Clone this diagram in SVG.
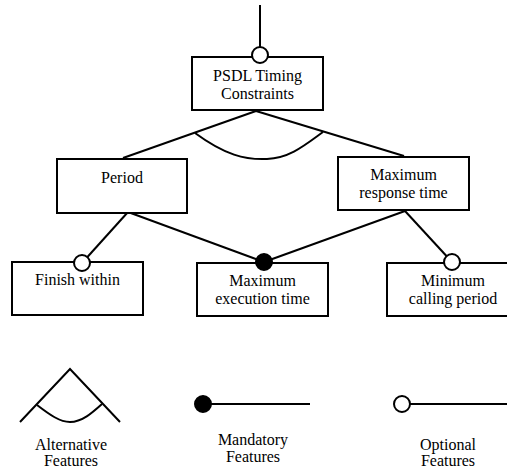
<svg xmlns="http://www.w3.org/2000/svg" width="507" height="469" viewBox="0 0 507 469">
<style>
.box{fill:#fff;stroke:#000;stroke-width:2}
.ln{fill:none;stroke:#000;stroke-width:2}
.open{fill:#fff;stroke:#000;stroke-width:2}
.fill{fill:#000;stroke:#000;stroke-width:2}
</style>
<rect width="507" height="469" fill="#fff"/>
<g id="connectors">
<line class="ln" x1="260" y1="5" x2="260" y2="47"/>
<line class="ln" x1="256" y1="111" x2="123" y2="158"/>
<line class="ln" x1="256" y1="111" x2="404" y2="156"/>
<path class="ln" d="M195,133 C225,155 245,160 267,159 C290,158 305,145 323,132"/>
<line class="ln" x1="128" y1="212" x2="82" y2="263"/>
<line class="ln" x1="128" y1="212" x2="264" y2="262"/>
<line class="ln" x1="405" y1="211" x2="264" y2="262"/>
<line class="ln" x1="405" y1="211" x2="452" y2="262"/>
</g>
<g font-family="Liberation Serif" font-size="16" text-anchor="middle" fill="#000">
<g id="root">
<rect class="box" x="192" y="57" width="131" height="53"/>
<text x="257.5" y="81">PSDL Timing</text>
<text x="257.5" y="99">Constraints</text>
<circle class="open" cx="260" cy="55" r="8"/>
</g>
<g id="period">
<rect class="box" x="57" y="159" width="130" height="54"/>
<text x="122" y="183">Period</text>
</g>
<g id="maxresponse">
<rect class="box" x="338" y="157" width="131" height="53"/>
<text x="403.5" y="180">Maximum</text>
<text x="403.5" y="198">response time</text>
</g>
<g id="finish">
<rect class="box" x="12" y="262" width="131" height="53"/>
<text x="77.5" y="285">Finish within</text>
<circle class="open" cx="82" cy="263" r="8"/>
</g>
<g id="maxexec">
<rect class="box" x="197" y="263" width="131" height="53"/>
<text x="262.5" y="286">Maximum</text>
<text x="262.5" y="304">execution time</text>
<circle class="fill" cx="264" cy="262" r="8"/>
</g>
<g id="mincalling">
<rect class="box" x="387" y="263" width="131" height="53"/>
<text x="453" y="286">Minimum</text>
<text x="453" y="304">calling period</text>
<circle class="open" cx="452" cy="262" r="8"/>
</g>
<g id="legend-alternative">
<polyline class="ln" points="20,422 70,369 120,422"/>
<path class="ln" d="M37,405 C50,415 60,422 70,422 C82,422 92,413 102,404"/>
<text x="71" y="450">Alternative</text>
<text x="71" y="466">Features</text>
</g>
<g id="legend-mandatory">
<line class="ln" x1="203" y1="404" x2="310" y2="404"/>
<circle class="fill" cx="203" cy="404" r="8"/>
<text x="253" y="445">Mandatory</text>
<text x="253" y="462">Features</text>
</g>
<g id="legend-optional">
<line class="ln" x1="402" y1="404" x2="507" y2="404"/>
<circle class="open" cx="402" cy="404" r="8"/>
<text x="448" y="450">Optional</text>
<text x="448" y="466">Features</text>
</g>
</g>
</svg>
